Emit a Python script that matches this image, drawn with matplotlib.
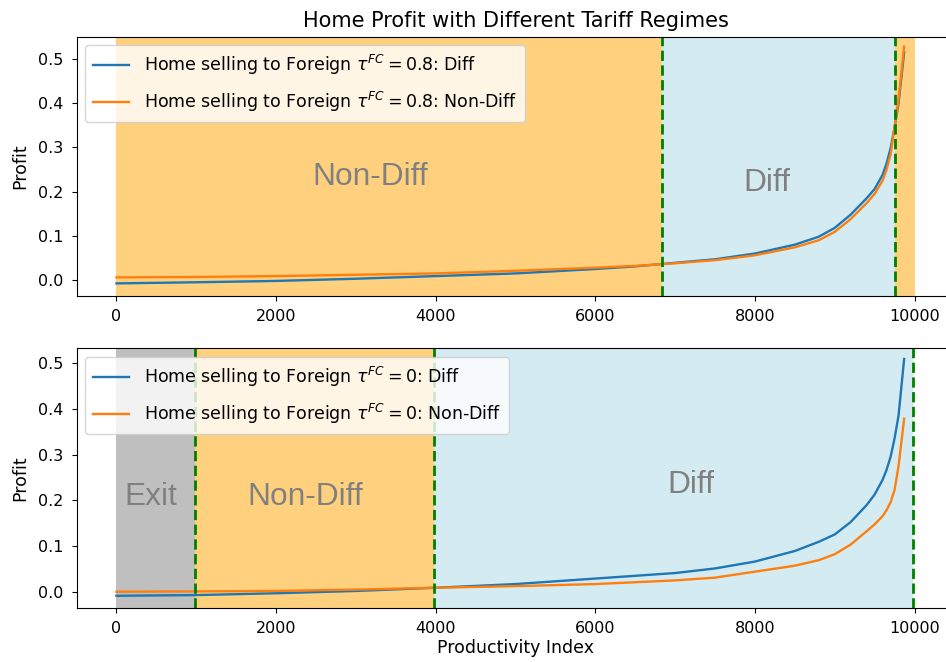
import matplotlib
matplotlib.use("Agg")
import matplotlib.pyplot as plt

# Productivity index sample points (shared by every curve)
productivity = [0, 1000, 2000, 3000, 4000, 5000, 6000, 6500, 7000, 7500, 8000,
                8500, 8800, 9000, 9200, 9400, 9500, 9600, 9650, 9700, 9750, 9800, 9870]

# Tariff tau^FC = 0.8
profit_diff_08 = [-0.0075, -0.005, -0.002, 0.003, 0.009, 0.015, 0.025, 0.031, 0.039, 0.047, 0.060,
                  0.080, 0.098, 0.118, 0.148, 0.185, 0.206, 0.238, 0.264, 0.298, 0.345, 0.400, 0.515]
profit_nondiff_08 = [0.006, 0.007, 0.009, 0.012, 0.015, 0.021, 0.028, 0.032, 0.038, 0.045, 0.056,
                     0.074, 0.090, 0.109, 0.138, 0.174, 0.195, 0.225, 0.250, 0.284, 0.345, 0.410, 0.528]

# Tariff tau^FC = 0
profit_diff_0 = [-0.0075, -0.006, -0.002, 0.003, 0.010, 0.018, 0.030, 0.036, 0.042, 0.052, 0.067,
                 0.090, 0.110, 0.126, 0.153, 0.190, 0.213, 0.245, 0.267, 0.295, 0.335, 0.385, 0.508]
profit_nondiff_0 = [0.0013, 0.002, 0.003, 0.006, 0.010, 0.0135, 0.018, 0.022, 0.026, 0.032, 0.045,
                    0.058, 0.070, 0.083, 0.104, 0.133, 0.148, 0.166, 0.179, 0.196, 0.223, 0.275, 0.378]

# Regime cut-offs along the productivity index
cuts_08 = [6840, 9750]
cuts_0 = [980, 3980, 9980]
index_max = 10000

regime_labels_08 = ["Non-Diff", "Diff"]
regime_labels_0 = ["Exit", "Non-Diff", "Diff"]

fig = plt.figure(figsize=(9.46, 6.62), dpi=100)
ax1 = fig.add_axes([0.0809, 0.5529, 0.928, 0.3917])
ax2 = fig.add_axes([0.0809, 0.0820, 0.928, 0.3923])

tick_fs = 11.5
label_fs = 12.5
legend_kw = dict(loc="upper left", fontsize=12.5, labelspacing=0.75, borderpad=0.45,
                 handlelength=2.1, handletextpad=0.85)
region_font = dict(fontsize=22.8, color="gray", family=["Liberation Sans", "DejaVu Sans"],
                   ha="center", va="center")
line_kw = dict(lw=1.7)

# Top panel: tau^FC = 0.8
ax1.plot(productivity, profit_diff_08, color="C0", **line_kw,
         label=r"Home selling to Foreign $\tau^{FC}=0.8$: Diff")
ax1.plot(productivity, profit_nondiff_08, color="C1", **line_kw,
         label=r"Home selling to Foreign $\tau^{FC}=0.8$: Non-Diff")
ax1.axvspan(0, cuts_08[0], color="orange", alpha=0.5, lw=0)
ax1.axvspan(cuts_08[0], cuts_08[1], color="lightblue", alpha=0.5, lw=0)
ax1.axvspan(cuts_08[1], index_max, color="orange", alpha=0.5, lw=0)
for c in cuts_08:
    ax1.axvline(c, color="green", ls="--", lw=2)
ax1.text(3177, 0.233, regime_labels_08[0], **region_font)
ax1.text(8150, 0.22, regime_labels_08[1], **region_font)
ax1.set_title("Home Profit with Different Tariff Regimes", fontsize=15, pad=7)
ax1.set_ylabel("Profit", fontsize=label_fs, labelpad=6)
ax1.legend(**legend_kw)

# Bottom panel: tau^FC = 0
ax2.plot(productivity, profit_diff_0, color="C0", **line_kw,
         label=r"Home selling to Foreign $\tau^{FC}=0$: Diff")
ax2.plot(productivity, profit_nondiff_0, color="C1", **line_kw,
         label=r"Home selling to Foreign $\tau^{FC}=0$: Non-Diff")
ax2.axvspan(0, cuts_0[0], color="gray", alpha=0.5, lw=0)
ax2.axvspan(cuts_0[0], cuts_0[1], color="orange", alpha=0.5, lw=0)
ax2.axvspan(cuts_0[1], cuts_0[2], color="lightblue", alpha=0.5, lw=0)
for c in cuts_0:
    ax2.axvline(c, color="green", ls="--", lw=2)
ax2.text(426, 0.208, regime_labels_0[0], **region_font)
ax2.text(2366, 0.208, regime_labels_0[1], **region_font)
ax2.text(7193, 0.234, regime_labels_0[2], **region_font)
ax2.set_ylabel("Profit", fontsize=label_fs, labelpad=6)
ax2.set_xlabel("Productivity Index", fontsize=label_fs, labelpad=2)
ax2.legend(**legend_kw)

for ax in (ax1, ax2):
    ax.set_xlim(-500, 10500)
    ax.set_xticks([0, 2000, 4000, 6000, 8000, 10000])
    ax.set_yticks([0.0, 0.1, 0.2, 0.3, 0.4, 0.5])
    ax.tick_params(labelsize=tick_fs, pad=6)
ax1.set_ylim(-0.036, 0.5505)
ax2.set_ylim(-0.0335, 0.532)

fig.savefig("out.png", dpi=100)
